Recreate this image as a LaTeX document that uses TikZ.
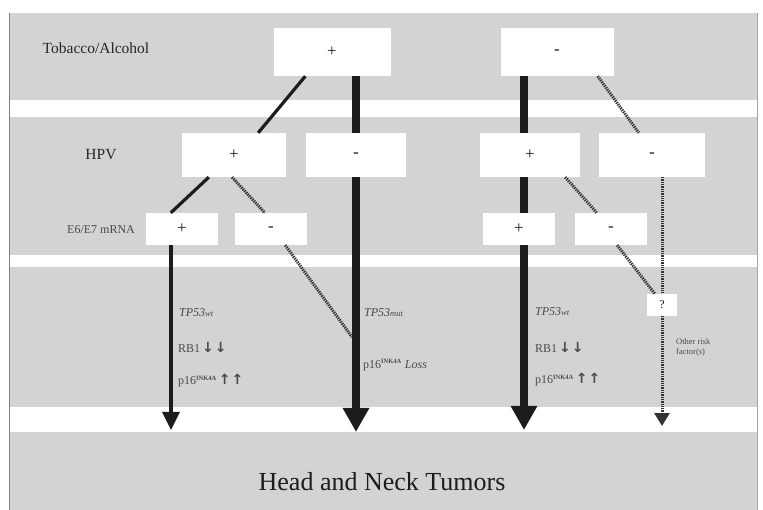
\documentclass[tikz,border=0pt]{standalone}
\usepackage{fontspec}
\setmainfont{Liberation Serif}
\newfontfamily\arrfont{DejaVu Sans}
\usetikzlibrary{arrows.meta,calc}
\definecolor{bgc}{HTML}{D3D3D3}
\definecolor{ink}{HTML}{1C1C1C}
\definecolor{labc}{HTML}{262626}
\definecolor{softc}{HTML}{4A4A4A}
\begin{document}
\begin{tikzpicture}[x=1pt,y=-1pt,
  box/.style={fill=white,draw=none,inner sep=0pt,font=\fontsize{17}{17}\selectfont,text=ink},
  rowlab/.style={font=\fontsize{15.5}{16}\selectfont,text=labc},
  small/.style={font=\fontsize{12}{12}\selectfont,text=softc,anchor=west,inner sep=0pt},
  thinline/.style={draw=ink,line width=3.2pt},
  thickline/.style={draw=ink,line width=8pt},
  dotline/.style={draw=ink!90,line width=3pt,dash pattern=on 1.3pt off 1pt},
  thinarrow/.style={thinline,-{Triangle[width=17pt,length=18pt]}},
  thickarrow/.style={thickline,-{Triangle[width=25pt,length=24pt]}},
  dotarrow/.style={dotline,-{Triangle[width=15pt,length=13pt]}}
]
\useasboundingbox (0,0) rectangle (763,510);
% background
\fill[white] (0,0) rectangle (763,510);
\fill[bgc] (9,13) rectangle (757,510);
\fill[white] (9,100) rectangle (757,117);
\fill[white] (9,255) rectangle (757,267);
\fill[white] (9,407) rectangle (757,432);
\draw[gray,line width=0.8pt] (9,13) -- (9,510);
\draw[gray!70,line width=0.8pt] (757,13) -- (757,510);

% row labels
\node[rowlab] (tl) at (96,48) {Tobacco/Alcohol};
\node[rowlab] (hl) at (101,155) {HPV};
\node[font=\fontsize{12}{12}\selectfont,text=softc] (el) at (101,230) {E6/E7 mRNA};

% boxes
\node[box,minimum width=117pt,minimum height=48pt] (tp) at (332,52) {+};
\node[box,minimum width=113pt,minimum height=48pt] (tm) at (557,52) {-};
\node[box,minimum width=104pt,minimum height=44pt] (h1) at (234,155) {+};
\node[box,minimum width=100pt,minimum height=44pt] (h2) at (356,155) {-};
\node[box,minimum width=100pt,minimum height=44pt] (h3) at (530,155) {+};
\node[box,minimum width=106pt,minimum height=44pt] (h4) at (652,155) {-};
\node[box,minimum width=72pt,minimum height=32pt] (e1) at (182,229) {+};
\node[box,minimum width=72pt,minimum height=32pt] (e2) at (271,229) {-};
\node[box,minimum width=72pt,minimum height=32pt] (e3) at (519,229) {+};
\node[box,minimum width=72pt,minimum height=32pt] (e4) at (611,229) {-};
\node[box,minimum width=30pt,minimum height=22pt,font=\fontsize{12}{12}\selectfont] (q) at (662,305) {?};

% end points
\coordinate (a1) at (171,430);
\coordinate (a2) at (356,432);
\coordinate (a3) at (524,430);
\coordinate (a4) at (662,426);
\coordinate (m) at (352,337);

% connectors
\draw[thinline] ($(tp.south west)+(32,0)$) -- ($(h1.north east)+(-28,0)$);
\draw[thickline] (tp.south -| h2) -- (h2.north);
\draw[thickarrow] (h2.south) -- (a2);
\draw[thickline] (tm.south -| a3) -- (h3.north -| a3);
\draw[thickline] (h3.south -| a3) -- (e3.north -| a3);
\draw[thickarrow] (e3.south -| a3) -- (a3);
\draw[dotline] ($(tm.south east)+(-16,0)$) -- ($(h4.north west)+(40,0)$);
\draw[thinline] ($(h1.south west)+(27,0)$) -- ($(e1.north west)+(25,0)$);
\draw[dotline] ($(h1.south)+(-2,0)$) -- ($(e2.north west)+(30,0)$);
\draw[thinarrow] (e1.south -| a1) -- (a1);
\draw[dotline] ($(e2.south east)+(-22,0)$) -- (m);
\draw[dotline] ($(h3.south east)+(-15,0)$) -- ($(e4.north west)+(22,0)$);
\draw[dotline] ($(e4.south east)+(-30,0)$) -- ($(q.north west)+(8,0)$);
\draw[dotline] (h4.south -| q) -- (q.north);
\draw[dotarrow] (q.south) -- (a4);

% annotations
\node[small] (w1) at (179,313) {\textit{TP53}{\fontsize{8.5}{9}\selectfont\textit{wt}}};
\node[small] (r1) at (178,347) {RB1\,{\arrfont\fontsize{14}{14}\selectfont\bfseries ↓\hspace{1pt}↓}};
\node[small] (p1) at (178,381) {p16\textsuperscript{\fontsize{6.5}{7}\selectfont\bfseries INK4A}\,{\arrfont\fontsize{14}{14}\selectfont\bfseries ↑\hspace{1pt}↑}};
\node[small] (w2) at (364,313) {\textit{TP53}{\fontsize{8.5}{9}\selectfont\textit{mut}}};
\node[small] (p2) at (363,365) {p16\textsuperscript{\fontsize{6.5}{7}\selectfont\bfseries INK4A} \textit{Loss}};
\node[small] (w3) at (535,312) {\textit{TP53}{\fontsize{8.5}{9}\selectfont\textit{wt}}};
\node[small] (r3) at (535,347) {RB1\,{\arrfont\fontsize{14}{14}\selectfont\bfseries ↓\hspace{1pt}↓}};
\node[small] (p3) at (535,380) {p16\textsuperscript{\fontsize{6.5}{7}\selectfont\bfseries INK4A}\,{\arrfont\fontsize{14}{14}\selectfont\bfseries ↑\hspace{1pt}↑}};
\node[font=\fontsize{8.5}{10}\selectfont,text=softc,align=left,anchor=west,inner sep=0pt] (of) at (676,347) {Other risk\\factor(\textit{s})};

\node[font=\fontsize{26}{26}\selectfont,text=ink] (hn) at (382,482) {Head and Neck Tumors};
\end{tikzpicture}
\end{document}
